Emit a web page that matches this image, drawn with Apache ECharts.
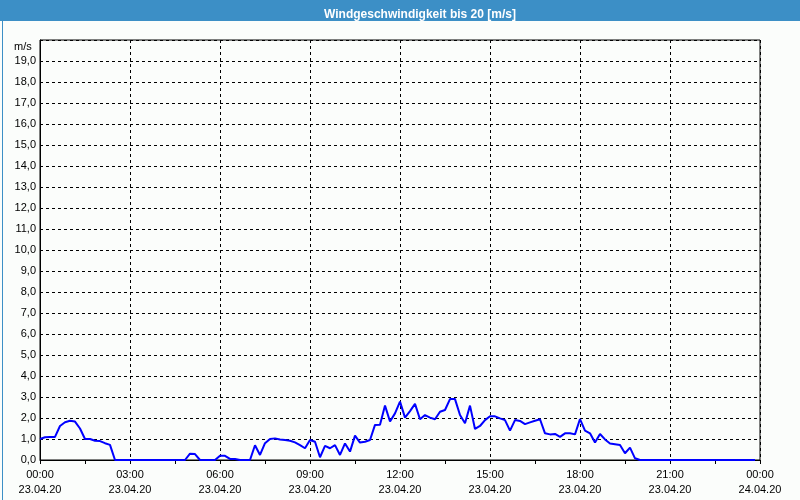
<!DOCTYPE html>
<html>
<head>
<meta charset="utf-8">
<script src="https://cdn.jsdelivr.net/npm/echarts@6/dist/echarts.min.js"></script>
<style>
html,body{margin:0;padding:0;background:#fbfdfb;}
#chart{width:800px;height:500px;}
</style>
</head>
<body>
<div id="chart"></div>
<script>
// Title
var chartTitle = 'Windgeschwindigkeit bis 20 [m/s]';
var unitLabel = 'm/s';
// X tick labels (every 3 hours)
var tickTimes = ['00:00','03:00','06:00','09:00','12:00','15:00','18:00','21:00','00:00'];
var tickDates = ['23.04.20','23.04.20','23.04.20','23.04.20','23.04.20','23.04.20','23.04.20','23.04.20','24.04.20'];
// Wind speed [m/s], 10-minute samples, 00:00 .. 23:50 (one row per hour)
var speeds = [
  1.00, 1.08, 1.10, 1.10, 1.62, 1.80,   // 00h
  1.87, 1.83, 1.50, 1.00, 1.00, 0.92,   // 01h
  0.90, 0.80, 0.72, 0.00, 0.00, 0.00,   // 02h
  0.00, 0.00, 0.00, 0.00, 0.00, 0.00,   // 03h
  0.00, 0.00, 0.00, 0.00, 0.00, 0.00,   // 04h
  0.30, 0.28, 0.00, 0.00, 0.00, 0.00,   // 05h
  0.20, 0.20, 0.05, 0.05, 0.00, 0.00,   // 06h
  0.00, 0.70, 0.24, 0.80, 1.00, 1.03,   // 07h
  0.98, 0.95, 0.92, 0.84, 0.71, 0.56,   // 08h
  0.95, 0.87, 0.13, 0.67, 0.56, 0.71,   // 09h
  0.24, 0.79, 0.40, 1.16, 0.83, 0.87,   // 10h
  0.95, 1.67, 1.68, 2.59, 1.83, 2.22,   // 11h
  2.78, 2.02, 2.33, 2.67, 1.94, 2.14,   // 12h
  2.02, 1.94, 2.30, 2.38, 2.90, 2.90,   // 13h
  2.14, 1.75, 2.59, 1.48, 1.62, 1.90,   // 14h
  2.08, 2.08, 1.98, 1.90, 1.40, 1.90,   // 15h
  1.86, 1.71, 1.79, 1.87, 1.94, 1.27,   // 16h
  1.22, 1.24, 1.10, 1.27, 1.27, 1.22,   // 17h
  1.95, 1.40, 1.27, 0.83, 1.24, 0.98,   // 18h
  0.79, 0.75, 0.71, 0.32, 0.59, 0.08,   // 19h
  0.00, 0.00, 0.00, 0.00, 0.00, 0.00,   // 20h
  0.00, 0.00, 0.00, 0.00, 0.00, 0.00,   // 21h
  0.00, 0.00, 0.00, 0.00, 0.00, 0.00,   // 22h
  0.00, 0.00, 0.00, 0.00, 0.00, 0.00    // 23h
];
var samplesPerHour = 6;

var seriesData = speeds.map(function (v, i) { return [i / samplesPerHour, v]; });

var chart = echarts.init(document.getElementById('chart'), null, {renderer: 'canvas'});
var labelFont = 'Liberation Sans, Arial, sans-serif';
chart.setOption({
  animation: false,
  backgroundColor: '#fbfdfb',
  graphic: [
    {type: 'rect', left: 0, top: 0, shape: {width: 800, height: 21}, style: {fill: '#3c8fc6'}, z: 0},
    {type: 'rect', left: 0, top: 0, shape: {x: 0.5, y: 0.5, width: 799, height: 499}, style: {fill: null, stroke: '#3c8fc6', lineWidth: 1}, z: 0},
    {type: 'text', left: 14, top: 41, style: {text: unitLabel, fill: '#000', font: '11px ' + labelFont}, z: 10}
  ],
  title: {
    text: chartTitle,
    left: 415, top: 4, textAlign: 'center',
    textStyle: {color: '#ffffff', fontWeight: 'bold', fontSize: 12, fontFamily: labelFont}
  },
  grid: {left: 40, right: 40, top: 40, bottom: 40, show: true, borderColor: '#000', borderWidth: 1, backgroundColor: 'transparent'},
  xAxis: {
    type: 'value', min: 0, max: 24, interval: 3,
    axisLine: {show: true, lineStyle: {color: '#000', width: 1}},
    axisTick: {show: true, length: 4, lineStyle: {color: '#000'}},
    minorTick: {show: true, splitNumber: 2, length: 4, lineStyle: {color: '#000'}},
    splitLine: {show: true, lineStyle: {color: '#000', type: [3, 3], width: 1}},
    axisLabel: {
      margin: 7, color: '#000', fontSize: 11, fontFamily: labelFont, lineHeight: 15,
      formatter: function (v) { var k = Math.round(v / 3); return tickTimes[k] + '\n' + tickDates[k]; }
    }
  },
  yAxis: {
    type: 'value', min: 0, max: 20, interval: 1,
    axisLine: {show: true, lineStyle: {color: '#000', width: 1}},
    axisTick: {show: false},
    splitLine: {show: true, lineStyle: {color: '#000', type: [3, 3], width: 1}},
    axisLabel: {
      margin: 4, color: '#000', fontSize: 11, fontFamily: labelFont,
      formatter: function (v) { return v >= 20 ? '' : v.toFixed(1).replace('.', ','); }
    }
  },
  series: [{
    type: 'line', data: seriesData, showSymbol: false, symbol: 'none',
    lineStyle: {color: '#0000ff', width: 2}, itemStyle: {color: '#0000ff'},
    clip: true
  }]
});
</script>
</body>
</html>
